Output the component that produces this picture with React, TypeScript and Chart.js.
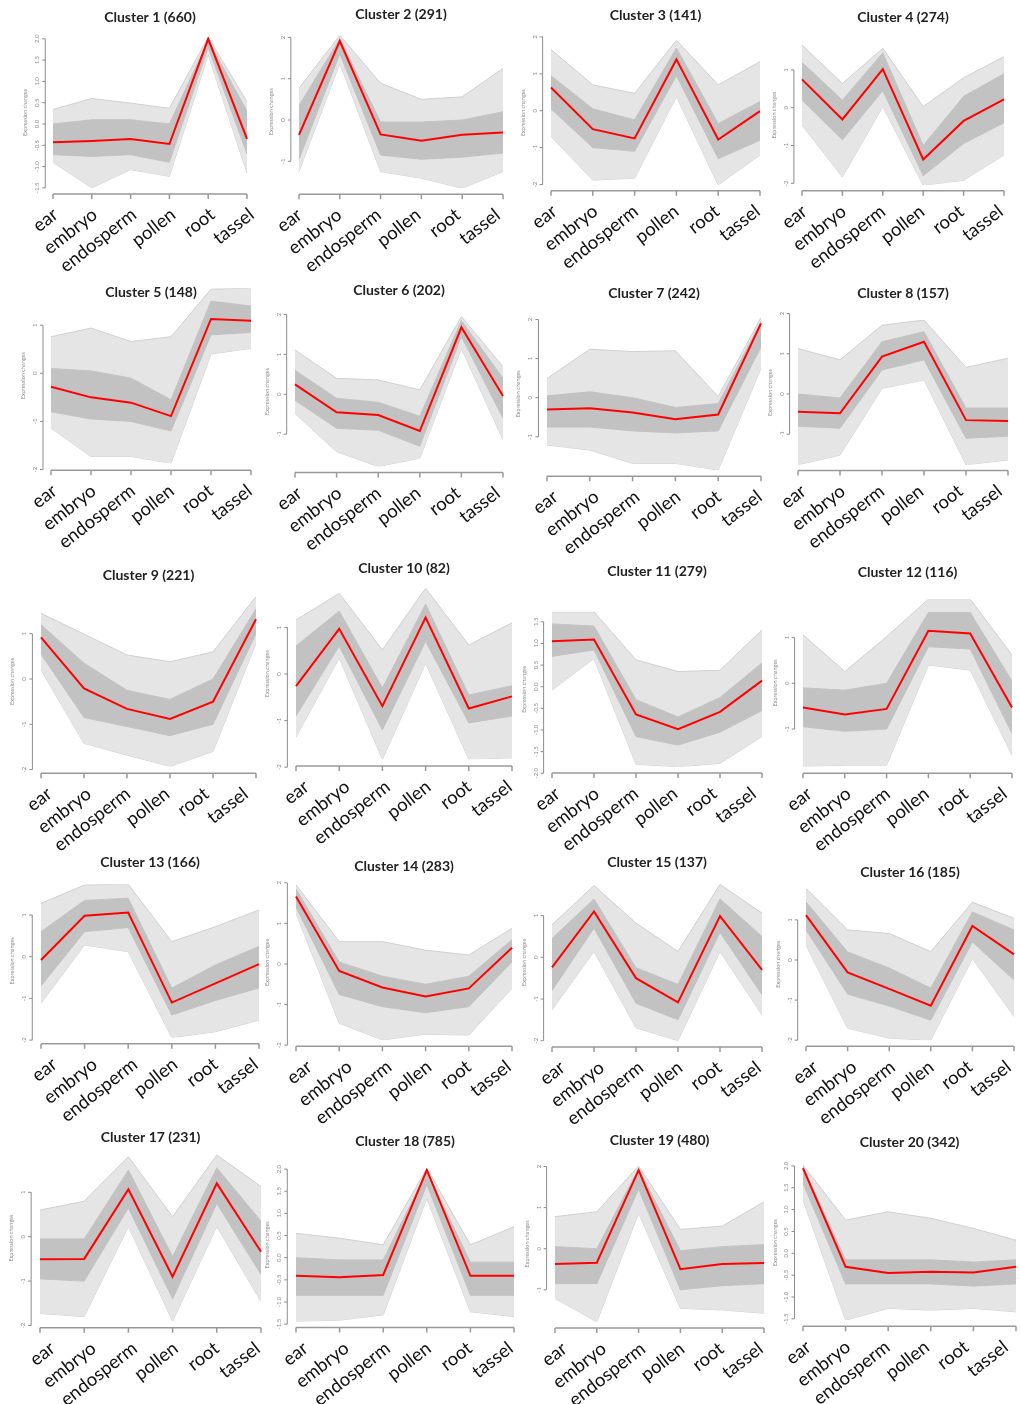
import React, { useEffect, useRef } from "react";
import { Chart, registerables } from "chart.js";

Chart.register(...registerables);

const categories = ["ear", "embryo", "endosperm", "pollen", "root", "tassel"];

const clusterSizes = [660, 291, 141, 274, 148, 202, 242, 157, 221, 82, 279, 116, 166, 283, 137, 185, 231, 785, 480, 342];

// red mean profile of each cluster
const meanValues = [
  [-0.43, -0.4, -0.35, -0.47, 2.0, -0.35],
  [-0.36, 1.91, -0.35, -0.5, -0.36, -0.3],
  [0.63, -0.5, -0.75, 1.39, -0.78, -0.01],
  [0.75, -0.31, 1.02, -1.37, -0.35, 0.22],
  [-0.28, -0.5, -0.61, -0.89, 1.13, 1.09],
  [0.25, -0.45, -0.52, -0.92, 1.68, -0.04],
  [-0.3, -0.27, -0.38, -0.55, -0.43, 1.9],
  [-0.44, -0.48, 0.93, 1.3, -0.65, -0.67],
  [0.92, -0.21, -0.66, -0.88, -0.5, 1.32],
  [-0.26, 0.97, -0.69, 1.21, -0.74, -0.48],
  [1.05, 1.09, -0.64, -0.98, -0.58, 0.14],
  [-0.53, -0.68, -0.56, 1.15, 1.09, -0.53],
  [-0.08, 0.98, 1.06, -1.1, -0.64, -0.18],
  [1.66, -0.17, -0.58, -0.8, -0.6, 0.4],
  [-0.24, 1.1, -0.5, -1.08, 0.99, -0.3],
  [1.12, -0.31, -0.72, -1.14, 0.85, 0.14],
  [-0.51, -0.5, 1.07, -0.9, 1.2, -0.34],
  [-0.41, -0.44, -0.39, 1.98, -0.41, -0.41],
  [-0.37, -0.34, 1.91, -0.5, -0.37, -0.35],
  [1.95, -0.31, -0.45, -0.42, -0.44, -0.31],
];

// outermost grey gene profiles (upper envelope)
const upperEnvelope = [
  [0.34, 0.6, 0.49, 0.37, 2.04, 0.52],
  [0.77, 2.05, 0.89, 0.5, 0.56, 1.25],
  [1.66, 0.7, 0.47, 1.91, 0.7, 1.33],
  [1.66, 0.64, 1.57, 0.03, 0.79, 1.35],
  [0.76, 0.94, 0.66, 0.76, 1.75, 1.77],
  [1.11, 0.4, 0.36, 0.11, 1.95, 0.69],
  [0.49, 1.24, 1.18, 1.2, 0.03, 2.05],
  [1.13, 0.85, 1.71, 1.84, 0.66, 0.89],
  [1.45, 0.99, 0.53, 0.38, 0.6, 1.82],
  [1.16, 1.73, 0.52, 1.84, 0.62, 1.1],
  [1.73, 1.73, 0.62, 0.35, 0.38, 1.31],
  [1.06, 0.26, 1.02, 1.84, 1.84, 0.62],
  [1.28, 1.72, 1.74, 0.36, 0.72, 1.12],
  [1.95, 0.55, 0.55, 0.34, 0.22, 0.88],
  [0.78, 1.72, 0.82, 0.14, 1.75, 1.06],
  [1.79, 0.75, 0.66, 0.21, 1.44, 1.04],
  [0.6, 0.8, 1.8, 0.45, 1.84, 1.13],
  [0.55, 0.44, 0.29, 2.02, 0.29, 0.7],
  [0.78, 0.9, 2.01, 0.47, 0.55, 1.14],
  [2.02, 0.76, 0.95, 0.8, 0.57, 0.3],
];

// upper edge of the dense grey core
const coreUpper = [
  [0.0, 0.1, 0.1, 0.0, 1.97, 0.3],
  [0.35, 1.97, -0.05, -0.05, 0.0, 0.2],
  [0.95, 0.05, -0.25, 1.7, -0.35, 0.25],
  [1.2, 0.2, 1.45, -1.0, 0.3, 0.9],
  [0.1, 0.05, -0.1, -0.55, 1.5, 1.4],
  [0.6, -0.1, -0.2, -0.55, 1.85, 0.4],
  [0.05, 0.15, 0.0, -0.25, -0.15, 1.95],
  [0.0, -0.1, 1.3, 1.55, -0.35, -0.35],
  [1.2, 0.35, -0.25, -0.45, 0.0, 1.55],
  [0.6, 1.35, -0.3, 1.5, -0.45, -0.25],
  [1.45, 1.4, -0.3, -0.7, -0.25, 0.55],
  [-0.1, -0.15, 0.0, 1.55, 1.55, 0.05],
  [0.6, 1.35, 1.4, -0.75, -0.2, 0.25],
  [1.85, 0.05, -0.3, -0.5, -0.3, 0.6],
  [0.45, 1.4, -0.25, -0.65, 1.4, 0.5],
  [1.45, 0.2, -0.2, -0.7, 1.2, 0.75],
  [-0.05, -0.05, 1.5, -0.45, 1.55, 0.35],
  [0.0, -0.05, -0.05, 1.95, -0.1, -0.1],
  [0.05, 0.0, 1.95, -0.05, 0.05, 0.1],
  [1.98, -0.15, -0.15, -0.15, -0.2, -0.15],
];

// lower edge of the dense grey core
const coreLower = [
  [-0.72, -0.76, -0.72, -0.9, 1.8, -0.7],
  [-0.95, 1.6, -0.85, -0.95, -0.9, -0.8],
  [0.05, -1.0, -1.1, 0.95, -1.3, -0.8],
  [0.2, -0.85, 0.45, -1.8, -0.95, -0.4],
  [-0.8, -0.95, -1.0, -1.2, 0.8, 0.85],
  [-0.15, -0.85, -0.9, -1.3, 1.45, -0.6],
  [-0.75, -0.75, -0.85, -0.9, -0.85, 1.3],
  [-0.8, -0.85, 0.6, 0.85, -1.1, -1.05],
  [0.55, -0.85, -1.05, -1.25, -1.0, 1.0],
  [-0.9, 0.6, -1.2, 0.7, -1.05, -0.9],
  [0.7, 0.85, -1.15, -1.35, -1.05, -0.55],
  [-0.95, -1.05, -1.0, 0.8, 0.75, -1.1],
  [-0.7, 0.6, 0.7, -1.4, -1.05, -0.75],
  [1.4, -0.75, -1.05, -1.2, -1.05, 0.05],
  [-0.8, 0.7, -1.1, -1.5, 0.6, -0.9],
  [0.75, -0.85, -1.15, -1.5, 0.45, -0.5],
  [-0.95, -1.0, 0.65, -1.4, 0.75, -0.85],
  [-0.85, -0.85, -0.85, 1.65, -0.85, -0.85],
  [-0.85, -0.85, 1.45, -1.0, -0.9, -0.85],
  [1.6, -0.7, -0.7, -0.7, -0.75, -0.7],
];

// outermost grey gene profiles (lower envelope)
const lowerEnvelope = [
  [-0.9, -1.5, -1.07, -1.23, 1.63, -1.15],
  [-1.25, 1.37, -1.25, -1.41, -1.65, -1.25],
  [-0.7, -1.88, -1.83, 0.38, -2.01, -1.2],
  [-0.46, -1.83, 0.03, -2.05, -1.92, -1.25],
  [-1.14, -1.73, -1.73, -1.87, 0.4, 0.52],
  [-0.48, -1.44, -1.81, -1.6, 1.15, -1.14],
  [-1.21, -1.34, -1.68, -1.68, -1.85, 0.75],
  [-1.76, -1.52, 0.14, 0.35, -1.76, -1.64],
  [0.2, -1.42, -1.68, -1.93, -1.6, 0.79],
  [-1.35, 0.34, -1.83, 0.23, -1.83, -1.8],
  [-0.08, 0.65, -1.79, -1.85, -1.77, -1.15],
  [-1.82, -1.79, -1.79, 0.4, 0.29, -1.57],
  [-1.12, 0.28, 0.12, -1.94, -1.8, -1.52],
  [1.25, -1.46, -1.87, -1.73, -1.75, -0.6],
  [-1.26, 0.14, -1.69, -2.0, 0.14, -1.38],
  [0.37, -1.7, -1.95, -2.0, 0.04, -1.41],
  [-1.73, -1.8, 0.23, -1.9, 0.23, -1.46],
  [-1.44, -1.41, -1.29, 1.34, -1.22, -1.33],
  [-1.21, -1.78, 0.86, -1.45, -1.49, -1.57],
  [1.22, -1.53, -1.26, -1.3, -1.26, -1.34],
];

const halfSteps = [-1.5, -1.0, -0.5, 0.0, 0.5, 1.0, 1.5, 2.0];
const yTicks = [
  halfSteps,
  [-1, 0, 1, 2],
  [-2, -1, 0, 1, 2],
  [-2, -1, 0, 1],
  [-2, -1, 0, 1],
  [-1, 0, 1, 2],
  [-1, 0, 1, 2],
  [-1, 0, 1, 2],
  [-2, -1, 0, 1],
  [-2, -1, 0, 1],
  [-2.0, -1.5, -1.0, -0.5, 0.0, 0.5, 1.0, 1.5],
  [-1, 0, 1],
  [-2, -1, 0, 1],
  [-2, -1, 0, 1, 2],
  [-2, -1, 0, 1],
  [-2, -1, 0, 1],
  [-2, -1, 0, 1],
  halfSteps,
  [-1, 0, 1, 2],
  halfSteps,
];
const decimalTicks = [0, 10, 17, 19];

// layout of each panel:
// [x of "ear", x of "tassel", y of value 0, px per unit, title y, ear label shift, tassel label shift]
const panelLayout = [
  [53, 247, 124, 42.6, 17, -4, -2],
  [299, 503, 120, 41.3, 14, -6, -12],
  [551, 760, 110.7, 36.9, 15, -3, -9],
  [802, 1004, 107.7, 37.8, 17, -4, -10],
  [51, 251, 373.3, 48.1, 292, -3, -8],
  [295, 503, 394.3, 39.9, 290, -2, -12],
  [547, 761, 397.7, 39.1, 293, 2, -8],
  [798, 1008, 394, 40.2, 293, -1, -15],
  [41, 256, 679, 45.3, 575, 2, -17],
  [296, 512, 674, 46.6, 568, 4, -9],
  [552, 762, 686.7, 43.3, 571, -1, -15],
  [803, 1012, 683.3, 45.7, 572, 0, -14],
  [41, 259, 956.7, 41.7, 862, 7, -10],
  [296, 512, 964, 40.6, 866, 7, -10],
  [552, 762, 957.3, 41.7, 862, 4, -10],
  [806, 1014, 960, 40.1, 872, 3, -12],
  [40, 261, 1236.7, 44.4, 1137, 6, -10],
  [296, 514, 1257.7, 44.3, 1141, 3, -10],
  [555, 764, 1248.7, 41.1, 1140, 3, -10],
  [803, 1016, 1253.3, 43.7, 1142, -1, -17],
];

const FONT = "Lato, 'Open Sans', sans-serif";

function Panel({ idx }: { idx: number }) {
  const ref = useRef<HTMLCanvasElement | null>(null);
  const [earX, tasselX, zeroY, unit, titleY, earShift, tasselShift] = panelLayout[idx];
  const allVals = [...upperEnvelope[idx], ...lowerEnvelope[idx], ...meanValues[idx]];
  const ymax = Math.max(...allVals);
  const ymin = Math.min(...allVals);
  const dataTop = zeroY - ymax * unit;
  const dataBottom = zeroY - ymin * unit;
  const axisYpx = dataBottom + 0.04 * (dataBottom - dataTop);
  const left = Math.round(earX - 60);
  const top = Math.round(titleY - 14);
  const right = Math.round(tasselX + 14);
  const bottom = Math.round(axisYpx + 95);
  const W = right - left;
  const H = bottom - top;

  useEffect(() => {
    const canvas = ref.current;
    if (!canvas) return;
    const rPlugin = {
      id: "rStyle",
      afterDraw(chart: any) {
        const { ctx, chartArea: a, scales } = chart;
        const xs = scales.x;
        const ys = scales.y;
        const w = a.right - a.left;
        const h = a.bottom - a.top;
        const axX = a.left - 0.04 * w;
        const axY = a.bottom + 0.04 * h;
        ctx.save();
        // title
        ctx.fillStyle = "#222";
        ctx.font = `bold 14px ${FONT}`;
        ctx.textAlign = "center";
        ctx.textBaseline = "middle";
        ctx.fillText(`Cluster ${idx + 1} (${clusterSizes[idx]})`, (a.left + a.right) / 2, titleY - top);

        // y axis
        const ticks = yTicks[idx];
        const tp = ticks.map((v: number) => ys.getPixelForValue(v));
        ctx.strokeStyle = "#8c8c8c";
        ctx.lineWidth = 1;
        ctx.beginPath();
        ctx.moveTo(axX, Math.max(...tp));
        ctx.lineTo(axX, Math.min(...tp));
        tp.forEach((p: number) => {
          ctx.moveTo(axX, p);
          ctx.lineTo(axX - 3, p);
        });
        ctx.stroke();
        ctx.fillStyle = "#8c8c8c";
        ctx.font = `6px ${FONT}`;
        ticks.forEach((v: number, i: number) => {
          const lbl = decimalTicks.includes(idx) ? v.toFixed(1) : String(v);
          ctx.save();
          ctx.translate(axX - 5, tp[i]);
          ctx.rotate(-Math.PI / 2);
          ctx.textAlign = "center";
          ctx.textBaseline = "bottom";
          ctx.fillText(lbl, 0, 0);
          ctx.restore();
        });
        ctx.save();
        ctx.font = `5.5px ${FONT}`;
        ctx.translate(axX - 17, (a.top + a.bottom) / 2);
        ctx.rotate(-Math.PI / 2);
        ctx.textAlign = "center";
        ctx.textBaseline = "bottom";
        ctx.fillText("Expression changes", 0, 0);
        ctx.restore();

        // x axis
        const xp = categories.map((_, i) => xs.getPixelForValue(i));
        ctx.strokeStyle = "#999";
        ctx.lineWidth = 1.5;
        ctx.beginPath();
        ctx.moveTo(xp[0], axY);
        ctx.lineTo(xp[xp.length - 1], axY);
        xp.forEach((p: number) => {
          ctx.moveTo(p, axY);
          ctx.lineTo(p, axY + 5);
        });
        ctx.stroke();
        ctx.fillStyle = "#111";
        ctx.font = `18.5px ${FONT}`;
        const n = categories.length - 1;
        categories.forEach((c, i) => {
          const shift = earShift + ((tasselShift - earShift) * i) / n;
          ctx.save();
          ctx.translate(xp[i] + 1 + shift, axY + 11);
          ctx.rotate((-38 * Math.PI) / 180);
          ctx.textAlign = "right";
          ctx.textBaseline = "top";
          ctx.fillText(c, 0, 0);
          ctx.restore();
        });
        ctx.restore();
      },
    };

    const chart = new Chart(canvas, {
      type: "line",
      data: {
        labels: categories,
        datasets: [
          {
            label: "mean",
            data: meanValues[idx],
            borderColor: "#ff0000",
            borderWidth: 2,
            fill: false,
          },
          {
            label: "core upper",
            data: coreUpper[idx],
            borderColor: "#c3c3c3",
            borderWidth: 1,
            backgroundColor: "#c2c2c2",
            fill: "+1",
          },
          {
            label: "core lower",
            data: coreLower[idx],
            borderColor: "#c3c3c3",
            borderWidth: 1,
            fill: false,
          },
          {
            label: "upper envelope",
            data: upperEnvelope[idx],
            borderColor: "#d0d0d0",
            borderWidth: 1,
            backgroundColor: "#e5e5e5",
            fill: "+1",
          },
          {
            label: "lower envelope",
            data: lowerEnvelope[idx],
            borderColor: "#d0d0d0",
            borderWidth: 1,
            fill: false,
          },
        ],
      },
      options: {
        responsive: false,
        animation: false,
        devicePixelRatio: 1,
        layout: {
          padding: {
            left: earX - left,
            right: right - tasselX,
            top: dataTop - top,
            bottom: bottom - dataBottom,
          },
        },
        elements: {
          point: { radius: 0 },
          line: { tension: 0 },
        },
        scales: {
          x: { type: "category", display: false, offset: false },
          y: { type: "linear", display: false, min: ymin, max: ymax },
        },
        plugins: {
          legend: { display: false },
          tooltip: { enabled: false },
          title: { display: false },
        },
      },
      plugins: [rPlugin],
    } as any);
    return () => chart.destroy();
  }, []);

  return (
    <canvas
      ref={ref}
      width={W}
      height={H}
      style={{ position: "absolute", left, top, width: W, height: H }}
    />
  );
}

export default function App() {
  return (
    <div
      style={{
        position: "absolute",
        left: 0,
        top: 0,
        width: 1020,
        height: 1404,
        background: "#fff",
        overflow: "hidden",
      }}
    >
      {clusterSizes.map((_, i) => (
        <Panel key={i} idx={i} />
      ))}
    </div>
  );
}
